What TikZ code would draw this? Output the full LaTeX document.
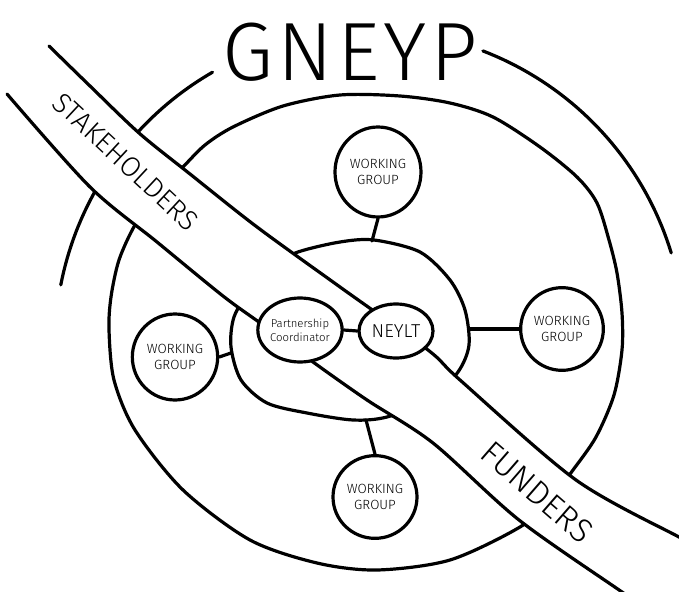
\documentclass[tikz,border=0pt]{standalone}
\usepackage{fontspec}
\usetikzlibrary{shapes.geometric}
% thin sans for the lettering, with a safe fallback
\IfFontExistsTF{Fira Sans Light}
  {\newfontfamily\hand{Fira Sans Light}}
  {\newfontfamily\hand{DejaVu Sans}}
\begin{document}
\begin{tikzpicture}[x=0.75pt,y=-0.75pt,
  pen/.style={line width=2.4pt,line cap=round,line join=round},
  bubble/.style={ellipse,draw,fill=white,pen,inner sep=0pt,align=center},
  wg/.style={bubble,font=\hand\fontsize{10}{12.5}\selectfont},
  link/.style={pen}]
\useasboundingbox (0,0) rectangle (679,592);

% outer arc around the title (centre (370,345), radius 315)
\draw[pen] plot[domain=169:120,samples=40] ({370+315*cos(\x)},{345-315*sin(\x)});
\draw[pen] plot[domain=69:17,samples=40] ({370+315*cos(\x)},{345-315*sin(\x)});
\node[font=\hand\fontsize{62}{62}\selectfont\addfontfeature{LetterSpace=5}] (title) at (350,52) {GNEYP};

% middle ring
\draw[pen] plot[smooth cycle,tension=0.5] coordinates {(340,95) (400,96) (450,103) (493,117) (540,147) (577,177) (597,203) (609,240) (617,273) (622,313) (622,350) (614,395) (596,437) (573,470) (550,500) (520,527) (450,560) (377,570) (317,563) (250,540) (183,490) (135,430) (114,380) (109,330) (111,297) (119,260) (135,225) (158,193) (183,167) (205,145) (233,127) (283,106)};

% inner core
\draw[pen] plot[smooth cycle,tension=0.5] coordinates {(298,252) (340,242) (374,240) (420,252) (450,280) (465,310) (469,345) (458,372) (430,400) (387,417) (353,420) (307,413) (267,403) (241,380) (231,347) (234,317) (250,290) (272,266)};
\coordinate (coreT) at (372,241);
\coordinate (coreR) at (469,329);
\coordinate (coreL) at (231,353);
\coordinate (coreB) at (366,420);

% diagonal band: stakeholders to funders, open at its upper-left end
\fill[white] plot[smooth] coordinates {(49,46) (90,86) (139,133) (190,174) (257,227) (340,287) (428,350) (460,380) (576,480) (679,537) (700,547)}
  -- plot[smooth] coordinates {(640,605) (622,592) (519,520) (433,443) (367,400) (313,362) (263,325) (223,296) (157,242) (90,187) (7,94)} -- cycle;
\draw[pen] plot[smooth] coordinates {(49,46) (90,86) (139,133) (190,174) (257,227) (340,287) (428,350) (460,380) (576,480) (679,537) (700,547)};
\draw[pen] plot[smooth] coordinates {(7,94) (90,187) (157,242) (223,296) (263,325) (313,362) (367,400) (433,443) (519,520) (622,592) (640,605)};
\node[font=\hand\fontsize{21}{21}\selectfont,rotate=-43] (stake) at (126,162) {STAKEHOLDERS};
\node[font=\hand\fontsize{25}{25}\selectfont,rotate=-41] (fund) at (537,492) {FUNDERS};

% core members
\node[bubble,minimum width=54pt,minimum height=48pt,font=\hand\fontsize{8.5}{10.5}\selectfont] (pc) at (300,330) {Partnership\\Coordinator};
\node[bubble,minimum width=55.5pt,minimum height=40.5pt,font=\hand\fontsize{14}{14}\selectfont] (neylt) at (396,331) {NEYLT};
\draw[link] (pc.east) -- (neylt.west);

% working groups
\node[wg,minimum width=64.5pt,minimum height=67.5pt] (wgT) at (378,172) {WORKING\\GROUP};
\node[wg,minimum width=62pt,minimum height=62pt] (wgR) at (562,329) {WORKING\\GROUP};
\node[wg,minimum width=64pt,minimum height=64.5pt] (wgL) at (175,357) {WORKING\\GROUP};
\node[wg,minimum width=63pt,minimum height=62pt] (wgB) at (375,497) {WORKING\\GROUP};
\draw[link] (wgT.south) -- (coreT);
\draw[link] (coreR) -- (wgR.west);
\draw[link] (wgL.east) -- (coreL);
\draw[link] (coreB) -- (wgB.north);
\end{tikzpicture}
\end{document}
